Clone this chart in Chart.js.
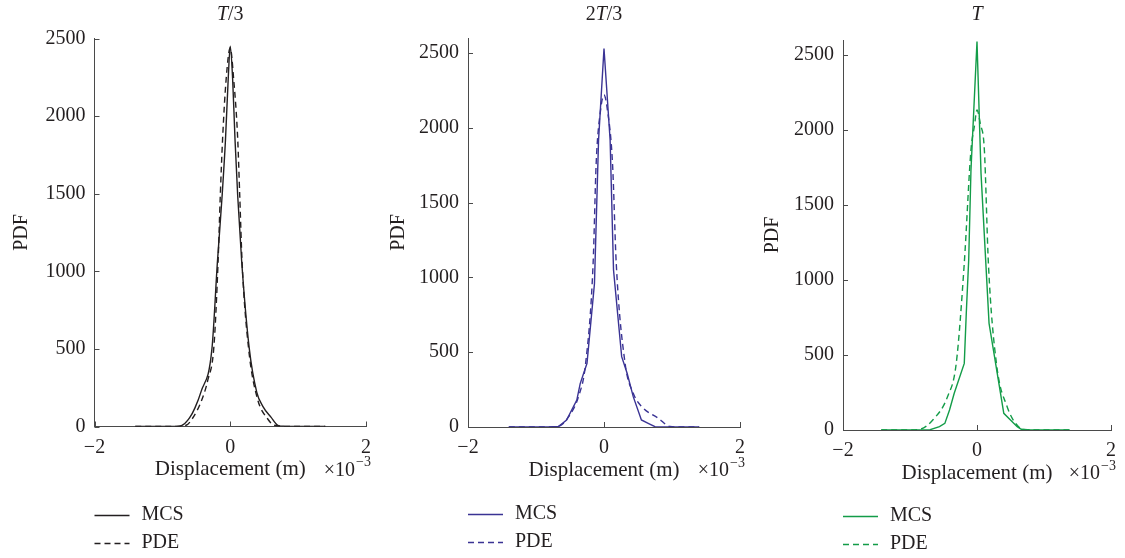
<!DOCTYPE html>
<html>
<head>
<meta charset="utf-8">
<script src="https://cdn.jsdelivr.net/npm/chart.js@4.4.1/dist/chart.umd.min.js"></script>
<style>
  html, body { margin: 0; padding: 0; background: #ffffff; }
  #wrap { position: relative; width: 1125px; height: 558px; overflow: hidden; }
  .panel { position: absolute; top: 0; height: 558px; }
</style>
</head>
<body>
<div id="wrap">
  <div class="panel" style="left:0px;width:380px"><canvas id="c1"></canvas></div>
  <div class="panel" style="left:380px;width:380px"><canvas id="c2"></canvas></div>
  <div class="panel" style="left:755px;width:370px"><canvas id="c3"></canvas></div>
</div>
<script>
// Displacement in units of 1e-3 m, probability density values.
const mcsT3 = [[-1.4,0],[-1.0,0],[-0.8,1],[-0.72,5],[-0.6,55],[-0.52,120],[-0.43,225],[-0.27,500],[-0.19,1054],[-0.12,1485],[-0.07,1850],[-0.03,2240],[0,2450],[0.035,2240],[0.07,1850],[0.11,1485],[0.17,1054],[0.28,503],[0.39,222],[0.48,130],[0.6,60],[0.7,8],[0.8,1],[1.0,0],[1.4,0]];
const pdeT3 = [[-1.4,0],[-1.0,0],[-0.8,1],[-0.65,8],[-0.56,50],[-0.42,170],[-0.33,300],[-0.24,520],[-0.18,1054],[-0.147,1485],[-0.113,1852],[-0.06,2240],[0,2440],[0.05,2240],[0.11,1852],[0.14,1485],[0.175,1054],[0.27,503],[0.4,180],[0.55,50],[0.65,8],[0.8,1],[1.0,0],[1.4,0]];

const mcs2T3 = [[-1.4,0],[-1.0,0],[-0.8,1],[-0.67,3],[-0.55,47],[-0.4,180],[-0.35,290],[-0.25,426],[-0.14,960],[-0.08,1918],[0,2530],[0.09,1918],[0.14,1049],[0.26,470],[0.34,359],[0.43,203],[0.55,47],[0.65,25],[0.75,2],[1.0,0],[1.4,0]];
const pde2T3 = [[-1.4,0],[-1.0,0],[-0.8,1],[-0.64,10],[-0.52,69],[-0.375,203],[-0.27,426],[-0.16,1094],[-0.115,1763],[-0.05,2120],[0,2219],[0.05,2120],[0.125,1763],[0.18,1094],[0.31,426],[0.43,225],[0.555,136],[0.8,58],[0.97,3],[1.1,0],[1.4,0]];

const mcsT = [[-1.43,0],[-1.0,0],[-0.7,2],[-0.56,22],[-0.48,44],[-0.41,133],[-0.34,245],[-0.19,444],[-0.16,778],[-0.124,1133],[-0.09,1733],[0,2590],[0.06,1711],[0.18,711],[0.4,111],[0.6,22],[0.66,5],[0.8,1],[1.0,0],[1.38,0]];
const pdeT = [[-1.43,0],[-1.0,0],[-0.85,5],[-0.66,67],[-0.44,222],[-0.31,444],[-0.19,1111],[-0.09,1867],[-0.04,2022],[0,2133],[0.05,2040],[0.11,1867],[0.17,1111],[0.29,444],[0.45,155],[0.62,22],[0.75,2],[1.0,0],[1.38,0]];

const xTicks = [-2, 0, 2];
const yTicks = [0, 500, 1000, 1500, 2000, 2500];
const seriesNames = ['MCS', 'PDE'];
const xAxisTitle = 'Displacement (m)';
const yAxisTitle = 'PDF';
const xExponent = ['\u00d710', '\u22123'];

const FONT = '"Liberation Serif", "DejaVu Serif", serif';
const TEXT = '#231f20';
const AXIS = '#4a4a4a';

const toXY = arr => arr.map(([x, y]) => ({ x, y }));

// Short tick marks drawn on the inner side of each axis line.
const innerTicks = {
  id: 'innerTicks',
  afterDatasetsDraw(chart) {
    const { ctx, chartArea, scales: { x, y } } = chart;
    ctx.save();
    ctx.strokeStyle = AXIS;
    ctx.lineWidth = 1;
    ctx.beginPath();
    x.ticks.forEach(t => {
      const px = Math.round(x.getPixelForValue(t.value)) + 0.5;
      ctx.moveTo(px, chartArea.bottom);
      ctx.lineTo(px, chartArea.bottom - 5);
    });
    y.ticks.forEach(t => {
      const py = Math.round(y.getPixelForValue(t.value)) + 0.5;
      ctx.moveTo(chartArea.left, py);
      ctx.lineTo(chartArea.left + 5, py);
    });
    ctx.stroke();
    ctx.restore();
  }
};

// Panel heading (italic T), the x10^-3 multiplier and the stacked legend.
const decorations = {
  id: 'decorations',
  afterDraw(chart, args, opts) {
    const { ctx, chartArea } = chart;
    const cx = (chartArea.left + chartArea.right) / 2;
    ctx.save();
    ctx.fillStyle = TEXT;
    ctx.textBaseline = 'middle';
    ctx.textAlign = 'left';

    // heading
    let total = 0;
    const parts = opts.heading.map(p => {
      ctx.font = (p.italic ? 'italic ' : '') + '20px ' + FONT;
      const w = ctx.measureText(p.text).width;
      total += w;
      return { ...p, w };
    });
    let hx = cx - total / 2;
    parts.forEach(p => {
      ctx.font = (p.italic ? 'italic ' : '') + '20px ' + FONT;
      ctx.fillText(p.text, hx, opts.headingY);
      hx += p.w;
    });

    // exponent of the x axis
    ctx.font = '20px ' + FONT;
    const wBase = ctx.measureText(xExponent[0]).width;
    ctx.font = '14px ' + FONT;
    const wSup = ctx.measureText(xExponent[1]).width;
    const ey = chartArea.bottom + 44;
    const ex = chartArea.right + 4 - wBase - wSup;
    ctx.font = '20px ' + FONT;
    ctx.fillText(xExponent[0], ex, ey);
    ctx.font = '14px ' + FONT;
    ctx.fillText(xExponent[1], ex + wBase + 1, ey - 8);

    // legend
    chart.data.datasets.forEach((ds, i) => {
      const ly = opts.legendY + i * 28;
      ctx.strokeStyle = ds.borderColor;
      ctx.lineWidth = ds.borderWidth;
      ctx.setLineDash(ds.borderDash || []);
      ctx.beginPath();
      ctx.moveTo(chartArea.left, ly + 0.5);
      ctx.lineTo(chartArea.left + 35, ly + 0.5);
      ctx.stroke();
      ctx.setLineDash([]);
      ctx.font = '20px ' + FONT;
      ctx.fillStyle = TEXT;
      ctx.fillText(ds.label, chartArea.left + 47, ly);
    });
    ctx.restore();
  }
};

function makePanel(canvasId, p) {
  const line = (label, data, dash, smooth) => ({
    label, data: toXY(data), borderColor: p.color, borderWidth: 1.4,
    borderDash: dash, pointRadius: 0, fill: false,
    tension: smooth ? 0.4 : 0,
    cubicInterpolationMode: smooth ? 'monotone' : 'default'
  });
  return new Chart(document.getElementById(canvasId), {
    type: 'line',
    data: {
      datasets: [
        line(seriesNames[0], p.mcs, [], p.smoothMcs),
        line(seriesNames[1], p.pde, [6, 4], true)
      ]
    },
    options: {
      responsive: true,
      maintainAspectRatio: false,
      animation: false,
      layout: { padding: p.padding },
      plugins: {
        legend: { display: false },
        title: { display: false },
        tooltip: { enabled: false },
        decorations: { heading: p.heading, headingY: p.headingY, legendY: p.legendY }
      },
      scales: {
        x: {
          type: 'linear',
          min: xTicks[0],
          max: xTicks[xTicks.length - 1],
          afterFit: s => { s.height = 56; },
          afterBuildTicks: s => { s.ticks = xTicks.map(v => ({ value: v })); },
          grid: { display: true, drawOnChartArea: false, drawTicks: false },
          border: { display: true, color: AXIS, width: 1 },
          ticks: {
            padding: 9,
            color: TEXT,
            font: { family: FONT, size: 20 },
            callback: v => (v < 0 ? '\u2212' + Math.abs(v) : String(v))
          },
          title: { display: true, text: xAxisTitle, color: TEXT, font: { family: FONT, size: 21 }, padding: { top: 0, bottom: 0 } }
        },
        y: {
          type: 'linear',
          min: 0,
          max: p.yMax,
          afterFit: s => { s.width = p.yAxisW; },
          afterBuildTicks: s => { s.ticks = yTicks.map(v => ({ value: v })); },
          grid: { display: true, drawOnChartArea: false, drawTicks: false },
          border: { display: true, color: AXIS, width: 1 },
          ticks: {
            padding: 9,
            color: TEXT,
            font: { family: FONT, size: 20 },
            callback: v => String(v)
          },
          title: { display: true, text: yAxisTitle, color: TEXT, font: { family: FONT, size: 20 }, padding: { top: p.yTitlePad, bottom: 0 } }
        }
      }
    },
    plugins: [innerTicks, decorations]
  });
}

makePanel('c1', {
  mcs: mcsT3, pde: pdeT3, color: '#231f20', yMax: 2500, smoothMcs: true,
  heading: [{ text: 'T', italic: true }, { text: '/3' }],
  headingY: 15, legendY: 515, yAxisW: 94.5, yTitlePad: 10,
  padding: { top: 38.5, right: 14, bottom: 75.5, left: 0 }
});
makePanel('c2', {
  mcs: mcs2T3, pde: pde2T3, color: '#3a3394', yMax: 2600, smoothMcs: false,
  heading: [{ text: '2' }, { text: 'T', italic: true }, { text: '/3' }],
  headingY: 15, legendY: 514, yAxisW: 88, yTitlePad: 7,
  padding: { top: 38, right: 20, bottom: 75, left: 0 }
});
makePanel('c3', {
  mcs: mcsT, pde: pdeT, color: '#139c48', yMax: 2600, smoothMcs: false,
  heading: [{ text: 'T', italic: true }],
  headingY: 15, legendY: 516, yAxisW: 88, yTitlePad: 6,
  padding: { top: 40, right: 12, bottom: 72, left: 0 }
});
</script>
</body>
</html>
